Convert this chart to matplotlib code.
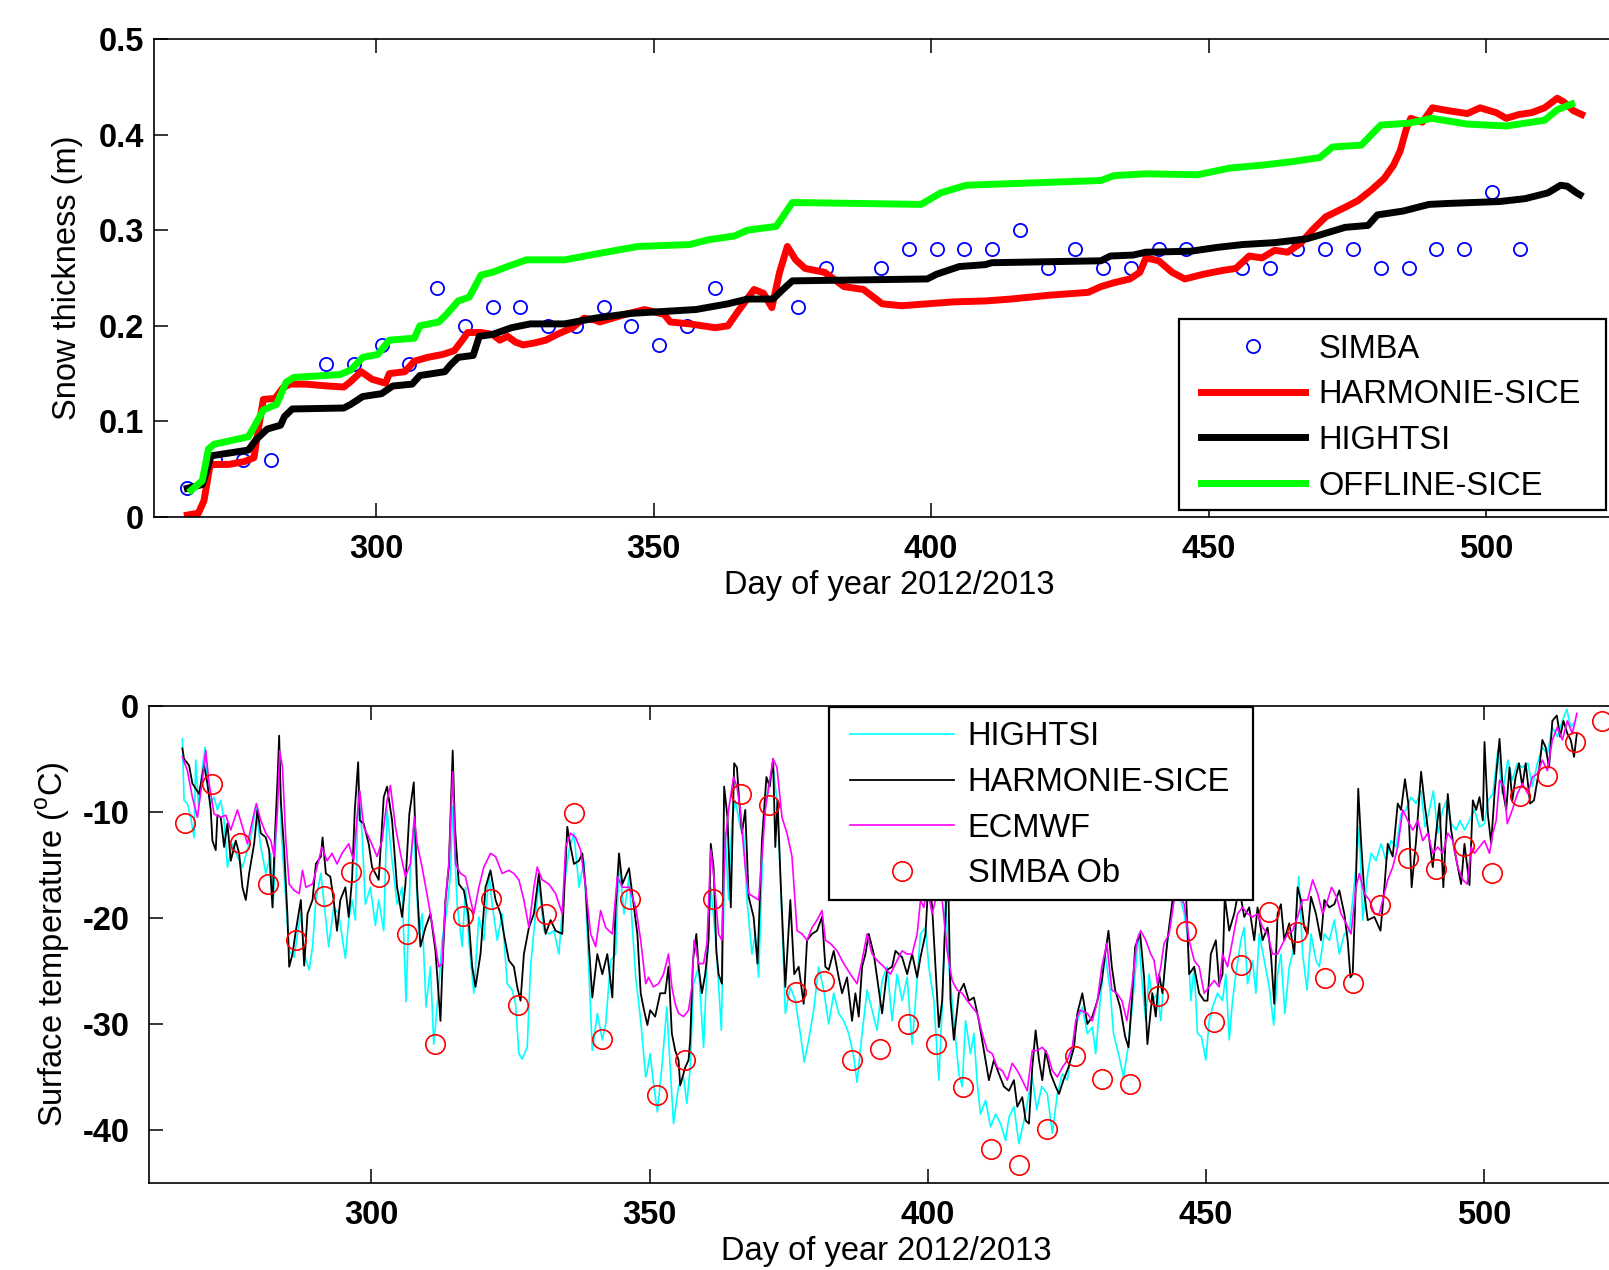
import matplotlib
matplotlib.use('Agg')
import matplotlib.pyplot as plt
from matplotlib.patches import Rectangle

plt.rcParams['font.family'] = ['Liberation Sans', 'DejaVu Sans']
plt.rcParams['axes.unicode_minus'] = False

# ---------------- snow thickness (top panel) ----------------
simba_day = [266, 271, 276, 281, 291, 296, 301, 306, 311, 316, 321, 326,
             331, 336, 341, 346, 351, 356, 361, 376, 381, 391,
             396, 401, 406, 411, 416, 421, 426, 431, 436, 441, 446, 456,
             461, 466, 471, 476, 481, 486, 491, 496, 501, 506]
simba_snow = [0.03, 0.06, 0.06, 0.06, 0.16, 0.16, 0.18, 0.16, 0.24, 0.20,
              0.22, 0.22, 0.20, 0.20, 0.22, 0.20, 0.18, 0.20, 0.24,
              0.22, 0.26, 0.26, 0.28, 0.28, 0.28, 0.28, 0.30, 0.26, 0.28,
              0.26, 0.26, 0.28, 0.28, 0.26, 0.26, 0.28, 0.28, 0.28, 0.26,
              0.26, 0.28, 0.28, 0.34, 0.28]

harm_day = [266, 268, 269, 270, 270.4, 273.5, 276.3, 278, 279, 279.7, 281.8,
            283.2, 284.5, 287.3, 291.4, 294.2, 295.5, 297.3, 299.3, 301.7, 302.4,
            305.2, 306.9, 309.3, 312, 314.1, 315.8, 316.5, 318.9, 321, 322.3,
            323.7, 325.1, 326.5, 328.5, 330.6, 332.6, 335.4, 337.5, 339.5, 340.3,
            344.9, 348.4, 351.9, 353, 356.5, 361.1, 363.4, 365.2, 368.1, 369.8,
            371.3, 372.7, 374.1, 375.6, 377.3, 380.8, 384.3, 387.8, 391.2, 394.7,
            399.3, 404, 409.8, 414.4, 421.3, 428.3, 430.6, 432.9, 435.8, 437.6,
            438.7, 441, 443.4, 445.7, 449.1, 452.6, 454.9, 457.3, 459.6, 461.9,
            464.2, 466.5, 468.8, 471.1, 474.6, 476.9, 479.3, 481.6, 483.3, 484.5,
            485.6, 486.4, 488.5, 490.3, 493.2, 496.6, 498.9, 501.8, 503.6, 505.9,
            508.2, 510.5, 512.8, 514, 515.7, 517.2]
harm_snow = [0.002, 0.004, 0.017, 0.051, 0.055, 0.055, 0.058, 0.062, 0.099, 0.123,
             0.124, 0.135, 0.139, 0.139, 0.137, 0.136, 0.142, 0.152, 0.144, 0.140,
             0.150, 0.152, 0.163, 0.167, 0.170, 0.174, 0.187, 0.193, 0.193, 0.191,
             0.185, 0.189, 0.183, 0.180, 0.182, 0.185, 0.191, 0.198, 0.208, 0.206,
             0.204, 0.212, 0.217, 0.212, 0.204, 0.202, 0.198, 0.200, 0.215, 0.238,
             0.234, 0.219, 0.256, 0.283, 0.269, 0.260, 0.256, 0.241, 0.238, 0.223,
             0.221, 0.223, 0.225, 0.226, 0.228, 0.232, 0.235, 0.241, 0.245, 0.249,
             0.256, 0.271, 0.268, 0.256, 0.249, 0.254, 0.258, 0.260, 0.273, 0.271,
             0.279, 0.277, 0.286, 0.301, 0.314, 0.324, 0.331, 0.342, 0.354, 0.368,
             0.383, 0.406, 0.417, 0.413, 0.428, 0.425, 0.422, 0.428, 0.423, 0.417,
             0.421, 0.423, 0.428, 0.438, 0.434, 0.425, 0.421]

hightsi_day = [266, 268.7, 270.3, 277, 278.4, 280.4, 282.8, 283.5, 284.9, 294.2,
               295.5, 297.6, 301, 303, 306.5, 307.9, 312.4, 313.4, 314.8, 317.5,
               318.6, 321, 324.4, 327.8, 334, 339.5, 346, 357.6, 363.4, 366.9,
               371.5, 373.3, 375, 399.3, 401, 405.1, 409.8, 410.9, 430.6, 432.3,
               436.4, 438.7, 446.8, 451.5, 456.1, 461.9, 467.7, 470.6, 474.6, 478.7,
               480.4, 485, 489.7, 493.2, 502.4, 507, 511.1, 513.4, 514.6, 516.3,
               516.9]
hightsi_snow = [0.030, 0.034, 0.064, 0.070, 0.081, 0.092, 0.096, 0.105, 0.113, 0.114,
                0.118, 0.126, 0.129, 0.137, 0.139, 0.148, 0.152, 0.159, 0.167, 0.169,
                0.189, 0.191, 0.198, 0.202, 0.202, 0.208, 0.213, 0.217, 0.223, 0.228,
                0.228, 0.238, 0.247, 0.249, 0.254, 0.262, 0.264, 0.266, 0.268, 0.273,
                0.274, 0.277, 0.278, 0.282, 0.285, 0.287, 0.291, 0.296, 0.303, 0.305,
                0.316, 0.320, 0.327, 0.328, 0.330, 0.333, 0.339, 0.347, 0.346, 0.339,
                0.337]

offline_day = [266.7, 268.7, 269.8, 270.8, 277, 278, 279.7, 282.1, 283.8, 285.2,
               293.5, 295.5, 297.6, 300.3, 302.4, 306.9, 307.9, 311.3, 312.7, 314.8,
               316.8, 318.9, 321, 323.7, 327.1, 334, 339.5, 347.2, 356.5, 359.9,
               364.6, 366.9, 372.1, 375, 398.2, 401.7, 406.3, 410.9, 430.6, 432.9,
               438.7, 448, 453.8, 459.6, 465.4, 470, 472.3, 477.5, 481, 486.2,
               490.2, 496.6, 503.6, 510.5, 512.8, 515.4]
offline_snow = [0.028, 0.038, 0.071, 0.076, 0.084, 0.094, 0.112, 0.118, 0.141, 0.146,
                0.149, 0.154, 0.167, 0.170, 0.185, 0.187, 0.200, 0.204, 0.212, 0.226,
                0.230, 0.253, 0.256, 0.262, 0.269, 0.269, 0.275, 0.283, 0.285, 0.290,
                0.294, 0.300, 0.304, 0.329, 0.327, 0.339, 0.347, 0.348, 0.352, 0.357,
                0.359, 0.358, 0.365, 0.368, 0.372, 0.376, 0.387, 0.389, 0.410, 0.412,
                0.417, 0.411, 0.409, 0.415, 0.426, 0.432]

# ---------------- surface temperature (bottom panel) ----------------
obs_day = [266.4, 271.4, 276.4, 281.4, 286.4, 291.4, 296.4, 301.4, 306.4, 311.4,
           316.4, 321.4, 326.4, 331.4, 336.4, 341.4, 346.4, 351.4, 356.4, 361.4,
           366.4, 371.4, 376.4, 381.4, 386.4, 391.4, 396.4, 401.4, 406.4, 411.4,
           416.4, 421.4, 426.4, 431.4, 436.4, 441.4, 446.4, 451.4, 456.4, 461.4,
           466.4, 471.4, 476.4, 481.4, 486.4, 491.4, 496.4, 501.4, 506.4, 511.4,
           516.4, 521.2]
obs_temp = [-11.0, -7.4, -12.9, -16.8, -22.1, -17.9, -15.7, -16.1, -21.5, -31.9,
            -19.8, -18.2, -28.2, -19.6, -10.1, -31.4, -18.2, -36.7, -33.4, -18.2,
            -8.3, -9.3, -27.0, -25.9, -33.4, -32.4, -30.0, -31.9, -35.9, -41.8,
            -43.3, -39.9, -33.0, -35.2, -35.7, -27.4, -21.2, -29.8, -24.4, -19.4,
            -21.3, -25.7, -26.1, -18.8, -14.3, -15.4, -13.2, -15.8, -8.5, -6.6,
            -3.4, -1.4]

cyan_day = [266.0, 266.3, 266.9, 267.5, 268.1, 268.4, 268.9, 269.6, 270.1, 270.5,
            271.1, 271.7, 272.3, 272.9, 273.5, 274.1, 275.0, 275.9, 276.8, 277.7,
            278.3, 279.2, 280.1, 281.0, 281.9, 282.3, 282.8, 283.4, 283.8, 284.6,
            285.2, 286.1, 286.7, 287.3, 287.9, 288.8, 289.4, 290.0, 290.9, 291.4,
            292.3, 293.2, 294.1, 295.3, 295.9, 296.5, 297.1, 297.6, 298.3, 298.9,
            299.8, 300.7, 301.3, 302.2, 302.8, 303.7, 304.6, 305.5, 306.2, 307.0,
            307.6, 308.5, 309.1, 309.8, 310.6, 311.2, 312.0, 312.7, 313.6, 314.2,
            314.6, 315.4, 316.3, 316.9, 317.5, 318.4, 319.3, 320.2, 321.1, 321.7,
            322.6, 323.5, 324.4, 325.3, 325.9, 326.5, 327.1, 328.0, 328.6, 329.5,
            330.1, 331.0, 331.9, 332.8, 333.7, 334.6, 335.5, 336.4, 337.3, 338.2,
            338.8, 339.7, 340.6, 341.5, 342.1, 343.0, 343.9, 344.5, 345.4, 346.3,
            347.5, 348.4, 349.3, 349.5, 350.1, 350.7, 351.4, 352.2, 353.1, 353.7,
            354.3, 355.2, 356.1, 356.7, 357.3, 357.9, 358.8, 359.7, 360.3, 361.0,
            361.8, 362.2, 362.9, 363.6, 364.2, 364.8, 365.4, 366.3, 366.9, 367.5,
            368.4, 369.0, 369.6, 370.5, 371.4, 372.2, 372.9, 373.5, 374.4, 375.3,
            376.2, 377.1, 377.8, 378.6, 379.5, 380.4, 381.3, 382.2, 383.1, 384.0,
            384.9, 385.8, 386.7, 387.3, 388.2, 389.1, 390.0, 390.9, 391.8, 392.7,
            393.6, 394.5, 395.4, 396.3, 397.2, 397.8, 398.7, 399.6, 400.2, 401.1,
            402.0, 402.6, 403.2, 403.8, 404.7, 405.6, 406.2, 406.8, 407.7, 408.3,
            408.9, 409.5, 410.4, 411.3, 412.2, 413.1, 414.0, 414.6, 415.5, 416.4,
            417.3, 418.2, 418.8, 419.6, 420.5, 421.5, 422.4, 423.3, 424.2, 425.1,
            426.0, 426.9, 427.8, 428.7, 429.6, 430.2, 431.0, 431.9, 432.8, 433.4,
            434.3, 435.2, 436.1, 437.0, 437.9, 438.6, 439.2, 439.8, 440.4, 441.3,
            441.9, 442.8, 443.7, 444.3, 445.2, 446.1, 446.7, 447.3, 447.9, 448.5,
            449.2, 450.0, 450.6, 451.2, 452.1, 453.0, 453.6, 454.2, 454.8, 455.4,
            456.3, 456.9, 457.5, 458.4, 459.0, 459.6, 460.5, 461.4, 462.2, 462.9,
            463.5, 464.2, 465.0, 465.9, 466.7, 467.4, 468.2, 468.9, 469.8, 470.4,
            471.3, 472.2, 473.1, 474.0, 474.9, 475.8, 476.4, 477.0, 477.6, 478.2,
            479.1, 479.7, 480.6, 481.5, 482.4, 483.3, 484.2, 485.1, 486.0, 486.9,
            487.8, 488.7, 489.4, 490.2, 490.9, 491.7, 492.6, 493.3, 494.1, 495.0,
            495.7, 496.5, 497.4, 498.3, 499.2, 500.1, 500.7, 501.6, 502.5, 503.3,
            504.3, 505.1, 506.0, 506.9, 507.9, 508.7, 509.6, 510.5, 511.4, 512.3,
            513.2, 514.1, 514.9, 515.6, 516.5]
cyan_temp = [-3.1, -8.9, -9.2, -10.5, -12.4, -5.1, -9.5, -5.8, -3.9, -7.6,
             -9.2, -8.6, -9.8, -8.9, -10.8, -15.2, -13.0, -14.2, -15.2, -13.6,
             -12.4, -9.5, -13.3, -15.8, -13.9, -19.0, -12.7, -4.2, -12.0, -18.3,
             -23.1, -23.7, -21.5, -19.6, -23.4, -24.9, -22.7, -18.3, -15.8, -18.3,
             -22.7, -19.0, -19.6, -23.8, -20.2, -18.3, -20.2, -8.0, -12.0, -18.7,
             -17.1, -20.7, -18.3, -21.2, -9.8, -14.6, -18.7, -17.1, -27.9, -15.2,
             -11.4, -21.5, -19.6, -28.4, -24.6, -31.9, -27.1, -22.1, -19.0, -15.8,
             -9.5, -18.7, -22.7, -17.1, -22.1, -27.1, -19.9, -22.1, -15.8, -18.7,
             -22.1, -19.6, -26.2, -26.8, -28.1, -32.8, -33.3, -32.2, -24.6, -19.6,
             -16.8, -21.2, -21.5, -21.2, -23.4, -17.1, -13.6, -12.0, -17.1, -14.6,
             -21.5, -32.5, -29.0, -31.5, -30.0, -24.0, -23.4, -14.6, -19.6, -16.1,
             -25.6, -29.7, -35.0, -34.7, -32.8, -35.6, -38.3, -34.1, -28.4, -34.1,
             -39.4, -35.9, -35.0, -37.5, -34.1, -26.2, -24.6, -32.2, -24.6, -17.1,
             -21.5, -24.6, -30.6, -12.0, -18.3, -10.8, -8.9, -11.4, -12.0, -18.3,
             -23.4, -21.5, -25.6, -10.8, -7.3, -5.8, -8.9, -15.8, -29.0, -26.5,
             -27.8, -30.9, -33.6, -31.5, -28.7, -24.6, -26.8, -30.0, -27.1, -29.0,
             -29.7, -30.9, -33.1, -35.5, -30.9, -26.8, -28.7, -30.6, -25.9, -24.6,
             -29.7, -25.3, -27.8, -25.6, -31.9, -27.8, -21.5, -20.9, -24.6, -27.8,
             -35.3, -28.4, -18.3, -24.6, -29.7, -34.7, -35.9, -29.7, -32.8, -30.9,
             -35.6, -38.5, -37.2, -39.7, -38.5, -39.4, -41.0, -38.8, -37.8, -41.3,
             -39.1, -36.6, -35.0, -38.1, -35.9, -36.6, -40.3, -36.6, -34.7, -35.3,
             -32.2, -29.7, -28.4, -30.9, -30.3, -32.8, -27.8, -23.4, -26.8, -30.9,
             -32.8, -35.0, -31.9, -27.1, -21.5, -26.5, -29.7, -25.3, -27.8, -27.1,
             -29.7, -23.4, -19.9, -18.3, -17.7, -19.6, -21.5, -27.8, -24.6, -30.9,
             -31.2, -33.4, -29.7, -28.4, -27.1, -27.8, -25.3, -31.5, -27.8, -25.3,
             -22.1, -20.9, -26.2, -24.0, -27.1, -21.5, -24.0, -26.5, -30.1, -25.3,
             -23.4, -29.0, -24.6, -22.7, -16.1, -23.4, -26.8, -21.5, -24.0, -24.6,
             -21.5, -22.1, -20.2, -23.4, -21.5, -21.2, -18.3, -15.2, -11.4, -20.2,
             -15.8, -13.9, -14.6, -13.0, -14.6, -12.7, -13.3, -10.2, -9.8, -8.6,
             -9.2, -8.0, -11.4, -9.8, -8.0, -12.0, -9.8, -8.9, -11.1, -11.7,
             -10.8, -11.7, -10.8, -9.8, -11.4, -11.1, -8.9, -8.3, -4.2, -8.3,
             -5.1, -7.0, -5.4, -5.8, -5.4, -7.6, -5.4, -3.9, -4.5, -2.0,
             -2.9, -1.4, -0.3, -2.0, -1.4]

black_day = [266.0, 266.3, 267.2, 267.8, 269.0, 269.9, 270.5, 271.1, 271.4, 272.0,
             272.3, 272.9, 273.5, 274.1, 274.7, 275.6, 276.2, 276.8, 277.4, 278.0,
             278.9, 279.5, 280.1, 281.0, 281.6, 282.2, 282.6, 283.1, 283.4, 283.7,
             284.3, 284.9, 285.2, 285.8, 286.4, 287.3, 287.9, 288.5, 289.4, 290.0,
             290.9, 291.2, 291.8, 292.6, 293.2, 293.8, 294.4, 295.3, 295.9, 296.5,
             297.0, 297.6, 297.9, 298.6, 299.5, 300.1, 301.3, 302.2, 302.8, 303.7,
             304.6, 305.5, 306.1, 306.8, 307.6, 308.2, 308.8, 309.7, 310.6, 311.5,
             312.4, 312.7, 313.3, 313.9, 314.6, 315.0, 315.7, 316.6, 317.4, 318.1,
             318.7, 319.6, 320.5, 321.4, 322.3, 323.2, 323.8, 324.7, 325.6, 326.2,
             326.8, 327.4, 328.3, 329.2, 330.1, 330.7, 331.3, 332.2, 333.1, 334.3,
             335.2, 335.8, 336.4, 337.3, 337.9, 338.5, 339.1, 339.7, 340.6, 341.5,
             342.4, 343.3, 343.9, 344.5, 345.1, 346.3, 347.2, 347.8, 348.4, 349.0,
             349.6, 350.1, 351.0, 351.9, 352.8, 353.4, 354.0, 354.6, 355.2, 355.5,
             356.4, 357.0, 357.3, 357.8, 358.4, 358.8, 359.4, 360.0, 360.6, 361.0,
             361.5, 362.0, 362.4, 363.0, 363.4, 364.0, 364.6, 365.2, 365.7, 366.1,
             366.6, 367.2, 367.8, 368.7, 369.4, 370.2, 371.0, 371.6, 372.2, 372.6,
             373.0, 373.6, 374.4, 375.3, 376.0, 376.8, 377.7, 378.3, 379.2, 380.1,
             381.0, 381.6, 382.2, 383.1, 384.0, 384.6, 385.5, 386.4, 387.0, 387.6,
             388.2, 388.8, 389.4, 390.3, 391.2, 391.8, 392.7, 393.6, 394.2, 395.4,
             396.3, 397.2, 398.1, 398.7, 399.6, 400.2, 400.8, 401.4, 402.0, 402.6,
             403.2, 403.6, 404.1, 404.7, 405.6, 406.5, 407.4, 408.3, 409.2, 410.1,
             411.0, 411.9, 412.8, 413.7, 414.6, 415.5, 416.1, 417.0, 417.6, 418.2,
             418.8, 419.4, 420.0, 420.6, 421.2, 422.1, 423.0, 423.6, 424.4, 425.3,
             426.3, 426.9, 427.8, 428.7, 429.6, 430.5, 431.3, 431.9, 432.5, 433.1,
             433.7, 434.6, 435.5, 436.1, 436.7, 437.3, 438.2, 438.9, 439.5, 440.4,
             441.0, 441.6, 442.2, 443.1, 443.7, 444.3, 444.9, 445.8, 446.4, 447.0,
             447.9, 448.8, 449.7, 450.3, 450.9, 451.8, 452.4, 453.0, 453.4, 454.2,
             455.1, 456.0, 456.9, 457.8, 458.7, 459.3, 460.2, 461.1, 461.7, 462.3,
             462.9, 463.5, 464.1, 465.0, 465.9, 466.5, 467.1, 467.7, 468.3, 468.9,
             469.8, 470.7, 471.3, 472.2, 473.1, 474.0, 474.9, 475.5, 476.0, 476.4,
             477.0, 477.4, 477.9, 478.5, 479.1, 480.3, 481.4, 482.1, 482.7, 483.6,
             484.5, 485.1, 485.8, 486.4, 487.0, 487.8, 488.7, 489.4, 490.2, 490.8,
             491.4, 492.0, 492.7, 493.5, 494.1, 494.7, 495.3, 495.9, 496.5, 497.4,
             498.0, 498.6, 499.2, 499.8, 500.1, 500.7, 501.3, 501.9, 502.8, 503.4,
             504.0, 504.6, 505.1, 505.7, 506.3, 506.9, 507.5, 508.3, 509.0, 509.9,
             510.5, 511.1, 511.7, 512.3, 513.1, 513.7, 514.3, 515.0, 515.6, 516.2,
             516.7]
black_temp = [-4.0, -5.0, -5.6, -7.3, -8.3, -5.6, -7.3, -9.8, -12.7, -13.6,
              -10.3, -10.5, -13.3, -11.1, -14.6, -12.7, -13.9, -17.1, -18.3, -15.8,
              -13.0, -9.8, -12.0, -12.4, -13.6, -19.0, -12.7, -7.0, -2.8, -8.9,
              -13.6, -19.9, -24.6, -23.4, -21.2, -18.3, -24.5, -19.6, -18.3, -14.9,
              -14.2, -12.4, -15.8, -16.1, -18.3, -21.2, -18.3, -17.1, -19.9, -16.4,
              -9.8, -5.3, -10.8, -11.1, -13.0, -15.2, -16.4, -8.6, -7.6, -10.8,
              -17.1, -19.9, -16.8, -10.2, -7.2, -17.1, -22.7, -20.9, -19.6, -23.1,
              -29.7, -25.3, -18.3, -15.2, -4.2, -11.4, -16.8, -17.4, -19.6, -24.6,
              -26.5, -23.4, -17.1, -15.5, -18.3, -19.6, -21.5, -24.0, -24.6, -26.5,
              -27.8, -23.4, -20.9, -19.6, -15.8, -19.0, -21.5, -20.2, -21.2, -21.5,
              -11.4, -13.3, -14.9, -14.6, -13.9, -17.1, -22.7, -27.5, -23.4, -25.3,
              -23.4, -27.5, -19.0, -13.9, -16.8, -15.3, -19.0, -21.5, -27.1, -28.7,
              -30.1, -28.7, -29.3, -27.1, -27.1, -24.6, -30.9, -32.5, -33.4, -35.8,
              -34.1, -33.4, -31.5, -24.0, -21.5, -24.6, -27.1, -25.3, -22.1, -13.0,
              -15.2, -23.1, -25.3, -26.2, -7.6, -10.5, -19.0, -5.4, -5.8, -8.9,
              -12.0, -9.8, -18.0, -19.9, -24.3, -12.7, -6.7, -7.6, -5.0, -13.3,
              -8.9, -17.1, -26.5, -18.3, -25.3, -24.6, -28.1, -22.1, -21.5, -21.2,
              -19.9, -24.6, -24.9, -23.1, -25.6, -27.1, -25.6, -29.7, -27.1, -29.3,
              -24.6, -23.4, -21.5, -23.4, -26.8, -29.0, -24.9, -24.6, -23.1, -23.7,
              -25.3, -23.4, -25.6, -23.7, -21.5, -15.8, -19.0, -24.6, -30.3, -27.8,
              -19.9, -14.0, -27.8, -31.5, -27.1, -26.2, -27.8, -27.5, -29.7, -32.5,
              -35.3, -33.4, -34.7, -35.9, -36.3, -35.3, -37.8, -36.9, -39.1, -39.4,
              -34.1, -30.6, -33.4, -35.3, -32.5, -34.7, -35.9, -36.6, -35.3, -34.1,
              -32.2, -29.0, -27.1, -30.0, -29.3, -27.8, -25.9, -23.4, -21.2, -24.6,
              -26.8, -28.4, -31.2, -32.2, -27.8, -22.7, -21.5, -25.6, -31.9, -27.1,
              -29.3, -25.3, -27.1, -22.1, -19.6, -17.1, -16.0, -18.3, -17.1, -25.3,
              -24.6, -27.1, -27.8, -27.8, -23.4, -22.1, -26.2, -25.3, -18.0, -21.2,
              -19.6, -17.1, -19.9, -19.0, -22.1, -19.0, -22.1, -20.9, -23.4, -28.1,
              -19.6, -18.7, -22.1, -20.5, -23.4, -17.1, -18.3, -20.9, -21.5, -18.0,
              -19.6, -22.1, -18.3, -19.0, -18.7, -17.4, -19.6, -22.1, -25.6, -25.3,
              -16.4, -7.8, -12.7, -17.7, -20.2, -19.9, -21.2, -17.1, -13.0, -14.2,
              -9.2, -9.8, -6.9, -9.2, -17.1, -12.7, -6.2, -9.5, -12.7, -15.2,
              -12.0, -9.2, -17.1, -8.3, -11.7, -13.6, -15.2, -16.8, -13.0, -16.9,
              -8.9, -9.8, -8.6, -10.8, -3.4, -10.2, -13.0, -8.3, -3.1, -8.0,
              -9.8, -5.8, -8.9, -6.7, -5.4, -7.6, -5.4, -9.2, -8.9, -6.1,
              -3.2, -3.9, -5.8, -1.4, -0.9, -2.9, -1.4, -2.6, -3.2, -4.8,
              -2.6]

mag_day = [266.0, 266.9, 267.8, 268.7, 269.6, 270.2, 270.8, 271.7, 272.9, 273.8,
           274.7, 275.9, 276.8, 277.7, 278.6, 279.3, 280.1, 281.0, 281.9, 282.5,
           283.1, 283.5, 284.0, 284.6, 285.2, 286.1, 287.0, 287.6, 288.2, 289.4,
           290.2, 291.1, 292.0, 292.9, 293.8, 294.7, 295.9, 296.8, 297.4, 297.9,
           298.6, 299.8, 301.0, 301.9, 302.8, 303.4, 304.3, 305.2, 306.1, 307.0,
           307.7, 308.2, 309.1, 310.3, 311.2, 312.1, 312.7, 313.3, 313.9, 314.6,
           315.1, 316.0, 316.9, 317.8, 318.4, 319.3, 320.2, 321.4, 322.3, 323.5,
           324.7, 325.6, 326.5, 327.4, 328.3, 329.2, 329.8, 330.7, 331.9, 333.1,
           334.3, 334.9, 335.8, 336.7, 337.6, 338.5, 339.4, 340.3, 341.2, 342.1,
           343.3, 344.2, 345.1, 346.3, 347.5, 348.4, 349.3, 349.8, 350.7, 351.6,
           352.5, 353.4, 354.0, 354.6, 355.2, 356.1, 357.0, 357.6, 358.0, 358.8,
           359.7, 360.3, 361.0, 361.6, 362.4, 363.0, 363.6, 364.2, 365.1, 365.7,
           366.3, 367.2, 367.8, 368.7, 369.6, 370.2, 370.8, 371.7, 372.2, 372.9,
           373.8, 374.7, 375.6, 376.5, 377.4, 378.3, 379.2, 380.1, 381.0, 381.6,
           382.5, 383.7, 384.9, 386.1, 387.3, 388.2, 389.1, 390.0, 390.9, 392.1,
           393.3, 394.5, 395.4, 396.3, 397.2, 398.1, 398.7, 399.3, 399.9, 400.8,
           401.7, 402.6, 403.5, 404.4, 405.3, 406.2, 407.1, 408.0, 408.9, 409.8,
           410.7, 411.6, 412.5, 413.4, 414.3, 415.2, 416.1, 417.0, 417.9, 418.8,
           419.7, 420.6, 421.5, 422.4, 423.3, 424.2, 425.1, 426.0, 426.6, 427.4,
           428.7, 429.6, 430.5, 431.3, 432.2, 433.1, 434.0, 434.9, 435.8, 436.7,
           437.6, 438.3, 439.2, 440.1, 440.7, 441.3, 441.9, 442.5, 443.4, 444.3,
           445.2, 446.1, 447.0, 447.9, 448.8, 449.7, 450.6, 451.5, 452.4, 453.0,
           453.9, 454.8, 455.7, 456.6, 457.5, 458.4, 459.3, 460.2, 461.1, 462.0,
           462.9, 463.8, 464.7, 465.6, 466.5, 467.4, 468.3, 469.2, 470.1, 471.0,
           471.9, 472.6, 473.5, 474.3, 475.2, 476.1, 477.0, 477.6, 478.5, 479.4,
           480.3, 481.2, 482.1, 482.7, 483.6, 484.5, 485.4, 486.3, 487.2, 488.1,
           489.0, 489.9, 490.8, 491.7, 492.6, 493.5, 494.4, 495.3, 496.2, 497.0,
           497.7, 498.3, 499.2, 500.1, 501.0, 501.6, 502.2, 502.8, 503.6, 504.2,
           505.1, 506.0, 506.9, 507.9, 508.7, 509.6, 510.5, 511.4, 512.3, 513.2,
           514.1, 515.0, 515.9, 516.7]
mag_temp = [-4.8, -6.1, -8.6, -10.5, -7.0, -4.2, -7.3, -10.2, -10.5, -10.3,
            -11.7, -9.8, -11.4, -13.0, -10.8, -9.2, -10.8, -12.0, -12.7, -14.2,
            -9.8, -4.2, -5.8, -12.7, -16.8, -17.4, -17.7, -15.5, -17.1, -16.8,
            -15.2, -13.3, -14.6, -13.9, -14.9, -13.9, -13.0, -14.6, -10.5, -8.0,
            -11.4, -12.7, -14.2, -12.7, -8.9, -7.5, -11.4, -13.9, -16.1, -14.9,
            -10.5, -13.0, -15.2, -18.7, -21.5, -24.6, -24.3, -18.3, -14.9, -6.2,
            -14.9, -15.8, -16.1, -18.3, -19.6, -17.1, -15.2, -13.9, -14.2, -15.8,
            -15.5, -15.8, -16.4, -18.3, -20.9, -17.1, -15.2, -16.4, -16.8, -17.7,
            -19.6, -13.3, -12.0, -12.4, -13.6, -17.1, -21.5, -22.7, -19.3, -20.9,
            -21.5, -16.1, -17.1, -17.1, -19.0, -22.1, -26.2, -25.6, -26.5, -26.2,
            -25.3, -23.4, -26.5, -28.1, -29.0, -29.3, -28.7, -26.5, -22.1, -24.3,
            -24.3, -22.4, -13.6, -16.4, -21.5, -22.1, -12.7, -9.8, -6.7, -7.6,
            -9.8, -15.2, -17.7, -18.0, -18.3, -14.2, -9.8, -6.7, -5.0, -5.8,
            -10.5, -12.0, -14.2, -21.2, -21.5, -22.1, -20.9, -20.2, -19.3, -22.1,
            -22.4, -23.1, -24.3, -25.3, -26.2, -24.0, -21.5, -23.4, -24.0, -24.6,
            -25.3, -24.0, -23.1, -23.4, -23.4, -21.5, -18.3, -19.0, -17.1, -19.6,
            -17.7, -18.3, -23.1, -25.9, -26.8, -27.1, -27.8, -28.4, -29.0, -30.9,
            -32.5, -32.8, -34.1, -34.4, -35.3, -33.7, -34.4, -35.3, -36.3, -32.5,
            -32.5, -32.2, -32.8, -34.4, -35.0, -34.1, -33.4, -32.2, -29.7, -28.7,
            -29.0, -29.7, -27.8, -24.6, -22.4, -26.8, -27.1, -27.8, -29.7, -26.5,
            -22.1, -21.2, -22.1, -23.4, -24.0, -26.2, -24.6, -22.4, -21.5, -18.3,
            -17.7, -18.7, -22.1, -24.0, -24.6, -27.1, -26.5, -25.9, -26.5, -23.4,
            -24.6, -22.1, -19.6, -19.0, -19.6, -19.9, -19.6, -20.9, -21.5, -23.4,
            -23.4, -22.4, -21.5, -21.2, -19.9, -18.3, -18.3, -16.4, -17.7, -19.6,
            -18.3, -17.1, -18.0, -19.6, -20.5, -21.5, -17.1, -15.8, -17.7, -18.3,
            -19.6, -19.6, -17.7, -16.4, -15.2, -13.3, -9.8, -10.8, -11.7, -10.8,
            -12.7, -12.0, -13.9, -13.3, -13.9, -12.0, -12.7, -15.2, -16.4, -16.8,
            -13.3, -13.9, -13.3, -12.7, -13.9, -12.0, -10.8, -7.0, -7.6, -11.1,
            -9.8, -8.3, -7.3, -8.3, -6.7, -6.4, -5.1, -6.1, -3.2, -2.0,
            -3.2, -1.4, -2.6, -0.7]

day_ticks = [300, 350, 400, 450, 500]
snow_ticks = [0, 0.1, 0.2, 0.3, 0.4, 0.5]
snow_tick_labels = ['0', '0.1', '0.2', '0.3', '0.4', '0.5']
temp_ticks = [-40, -30, -20, -10, 0]
temp_tick_labels = ['-40', '-30', '-20', '-10', '0']

FS = 23.5
W, H = 1609, 1270
fig = plt.figure(figsize=(W / 100, H / 100), dpi=100)
fig.patch.set_facecolor('white')

# axes run past the right edge of the figure (the original is cropped there)
ax1 = fig.add_axes([154 / W, 1 - 517 / H, 1471 / W, 478 / H])
ax2 = fig.add_axes([149 / W, 1 - 1183 / H, 1474 / W, 477 / H])

leg_kw = dict(prop={'size': FS, 'weight': 'normal'}, frameon=False,
              handlelength=3.2, handletextpad=0.41, borderpad=0,
              labelspacing=0.45, borderaxespad=0, loc='upper left',
              bbox_transform=fig.transFigure)


def legend_box(ax, x0, y0, x1, y1):
    """White framed box behind the legend, given in pixels from the top left."""
    box = Rectangle((x0 / W, 1 - y1 / H), (x1 - x0) / W, (y1 - y0) / H,
                    transform=fig.transFigure, facecolor='white',
                    edgecolor='black', linewidth=1.6, zorder=4.5, clip_on=False)
    ax.add_artist(box)


# ---- top: snow thickness ----
ax1.plot(simba_day, simba_snow, 'o', mfc='none', mec='#0000ff', ms=9.5, mew=1.3,
         label='SIMBA')
ax1.plot(harm_day, harm_snow, color='#ff0000', lw=5, label='HARMONIE-SICE')
ax1.plot(hightsi_day, hightsi_snow, color='black', lw=5, label='HIGHTSI')
ax1.plot(offline_day, offline_snow, color='#00ff00', lw=5, label='OFFLINE-SICE')
ax1.set_xlim(260, 525)
ax1.set_ylim(0, 0.5)
ax1.set_yticks(snow_ticks)
ax1.set_yticklabels(snow_tick_labels)
ax1.set_xlabel('Day of year 2012/2013', fontsize=FS)
ax1.set_ylabel('Snow thickness (m)', fontsize=FS)
ax1.xaxis.set_label_coords(0.5, -0.111)
ax1.yaxis.set_label_coords(-0.048, 0.5)
legend_box(ax1, 1179, 319, 1606, 510)
ax1.legend(bbox_to_anchor=(1200.6 / W, 1 - 333.5 / H), **leg_kw)

# ---- bottom: surface temperature ----
ax2.plot(cyan_day, cyan_temp, color='#00ffff', lw=1.2, label='HIGHTSI')
ax2.plot(black_day, black_temp, color='black', lw=1.3, label='HARMONIE-SICE')
ax2.plot(mag_day, mag_temp, color='#ff00ff', lw=1.2, label='ECMWF')
ax2.plot(obs_day, obs_temp, 'o', mfc='none', mec='#ff0000', ms=14, mew=1.2,
         label='SIMBA Ob')
ax2.set_xlim(260, 525)
ax2.set_ylim(-45, 0)
ax2.set_yticks(temp_ticks)
ax2.set_yticklabels(temp_tick_labels)
ax2.set_xlabel('Day of year 2012/2013', fontsize=FS)
ax2.set_ylabel(r'Surface temperature ($^{\mathregular{o}}$C)', fontsize=FS)
ax2.xaxis.set_label_coords(0.5, -0.112)
ax2.yaxis.set_label_coords(-0.052, 0.5)
legend_box(ax2, 829, 707, 1253, 900)
ax2.legend(bbox_to_anchor=(849.7 / W, 1 - 721.4 / H), **leg_kw)

for ax in (ax1, ax2):
    ax.set_xticks(day_ticks)
    ax.tick_params(direction='in', top=True, right=True, length=10, width=1.1,
                   labelsize=FS)
    ax.tick_params(axis='x', pad=12)
    ax.tick_params(axis='y', pad=7)
    for lab in ax.get_xticklabels() + ax.get_yticklabels():
        lab.set_fontweight('bold')
    for sp in ax.spines.values():
        sp.set_linewidth(1.2)

# negative temperature labels sit further from the axis in the original
for tick, lab in zip(ax2.yaxis.get_major_ticks(), temp_tick_labels):
    if lab.startswith('-'):
        tick.set_pad(14)

fig.savefig('out.png', dpi=100, facecolor='white')
